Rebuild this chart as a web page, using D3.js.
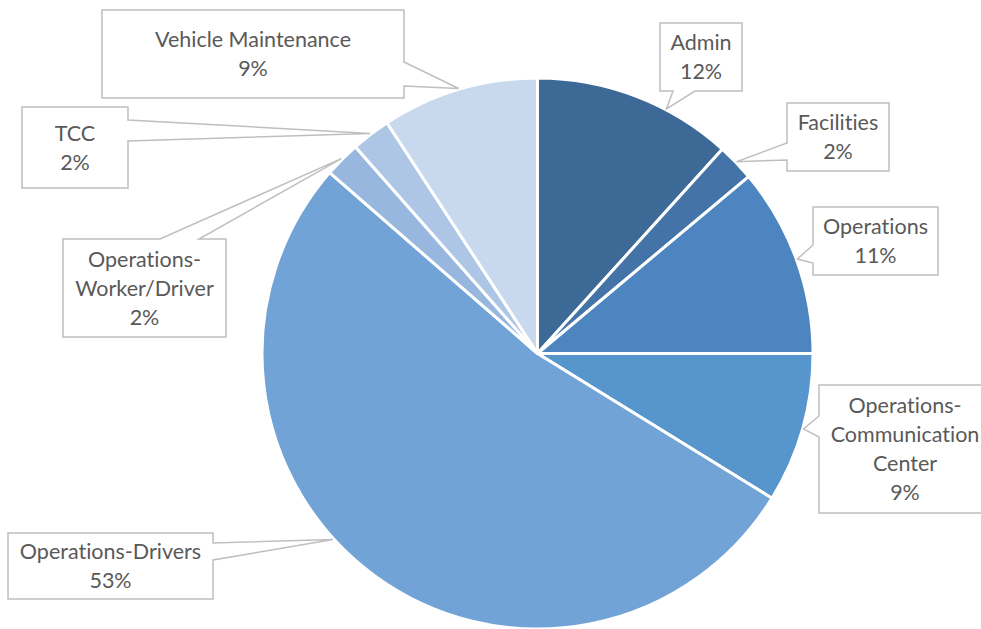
<!DOCTYPE html>
<html>
<head>
<meta charset="utf-8">
<script src="https://cdn.jsdelivr.net/npm/d3@7"></script>
<style>
  html, body { margin: 0; padding: 0; background: #fff; }
  svg { display: block; }
  .callout text {
    font-family: Lato, "Open Sans", sans-serif;
    font-size: 21.5px;
    fill: #595959;
    font-variant-ligatures: none;
  }
</style>
</head>
<body>
<div id="chart"></div>
<script>
// data (shares in %)
const categories = ['Admin', 'Facilities', 'Operations', 'Operations-Communication Center',
    'Operations-Drivers', 'Operations-Worker/Driver', 'TCC', 'Vehicle Maintenance'];
const shares = [11.7, 2.2, 11.1, 8.8, 52.6, 2.1, 2.3, 9.2];
const sliceColors = ['#3d6996', '#4473a8', '#4c85bf', '#5795cd', '#71a3d6', '#97b7df', '#adc6e6', '#c8d8ed'];

// callout layout: label lines, box, side the pointer leaves from, pointer base, where on the slice it points
const callouts = [
    {lines: ['Admin'], box: [660, 23, 82, 68], side: 'bottom', base: [673, 695], frac: 0.66},
    {lines: ['Facilities'], box: [787, 103, 102, 68], side: 'left', base: [143, 160], frac: 0.5},
    {lines: ['Operations'], box: [813, 207, 125, 68], side: 'left', base: [245, 263], frac: 0.5},
    {lines: ['Operations-', 'Communication', 'Center'], box: [819, 385, 172, 128], side: 'left', base: [416, 437], frac: 0.5},
    {lines: ['Operations-Drivers'], box: [8, 533, 205, 66], side: 'right', base: [543, 560], frac: 0.56},
    {lines: ['Operations-', 'Worker/Driver'], box: [63, 239, 163, 98], side: 'top', base: [160, 199], frac: 0.5},
    {lines: ['TCC'], box: [22, 107, 106, 81], side: 'right', base: [120, 141], frac: 0.5},
    {lines: ['Vehicle Maintenance'], box: [102, 10, 302, 88], side: 'right', base: [62, 86], frac: 0.5}
];

const width = 981;
const height = 629;
const cx = 537.5;
const cy = 353.5;
const radius = 275.5;
const lineHeight = 29;

const total = d3.sum(shares);
const fmtPct = d3.format('.0%');

const svg = d3.select('#chart')
    .append('svg')
    .attr('width', width)
    .attr('height', height);

const pie = d3.pie().sort(null).value(d => d);
const arcs = pie(shares);
const arc = d3.arc().innerRadius(0).outerRadius(radius);

svg.append('g')
    .attr('transform', `translate(${cx},${cy})`)
    .selectAll('path')
    .data(arcs)
    .join('path')
      .attr('d', arc)
      .attr('fill', (d, i) => sliceColors[i])
      .attr('stroke', '#fff')
      .attr('stroke-width', 3)
      .attr('stroke-linejoin', 'round');

// point on the rim of a slice
function rimPoint(d, frac) {
    const a = d.startAngle + frac * (d.endAngle - d.startAngle);
    const r = radius + 1;
    return [cx + r * Math.sin(a), cy - r * Math.cos(a)];
}

function calloutPath(c, tip) {
    const [x, y, w, h] = c.box;
    const [b0, b1] = c.base;
    const [tx, ty] = tip;
    let p;
    if (c.side === 'right') {
        p = [[x, y], [x + w, y], [x + w, b0], [tx, ty], [x + w, b1], [x + w, y + h], [x, y + h]];
    } else if (c.side === 'left') {
        p = [[x, y], [x + w, y], [x + w, y + h], [x, y + h], [x, b1], [tx, ty], [x, b0]];
    } else if (c.side === 'top') {
        p = [[x, y], [b0, y], [tx, ty], [b1, y], [x + w, y], [x + w, y + h], [x, y + h]];
    } else {
        p = [[x, y], [x + w, y], [x + w, y + h], [b1, y + h], [tx, ty], [b0, y + h], [x, y + h]];
    }
    return 'M' + p.map(q => q.join(',')).join('L') + 'Z';
}

const labels = svg.append('g')
    .selectAll('g')
    .data(arcs)
    .join('g')
      .attr('class', 'callout');

labels.append('path')
    .attr('d', (d, i) => calloutPath(callouts[i], rimPoint(d, callouts[i].frac)))
    .attr('fill', '#fff')
    .attr('stroke', '#bfbfbf')
    .attr('stroke-width', 1.5)
    .attr('stroke-linejoin', 'miter');

labels.each(function(d, i) {
    const c = callouts[i];
    const lines = c.lines.concat([fmtPct(shares[i] / total)]);
    const [x, y, w, h] = c.box;
    const midY = y + h / 2;
    const first = midY - (lines.length - 1) * lineHeight / 2;
    d3.select(this).append('text')
        .attr('text-anchor', 'middle')
        .selectAll('tspan')
        .data(lines)
        .join('tspan')
          .attr('x', x + w / 2)
          .attr('y', (t, k) => first + k * lineHeight)
          .attr('dy', '0.35em')
          .text(t => t);
});
</script>
</body>
</html>
